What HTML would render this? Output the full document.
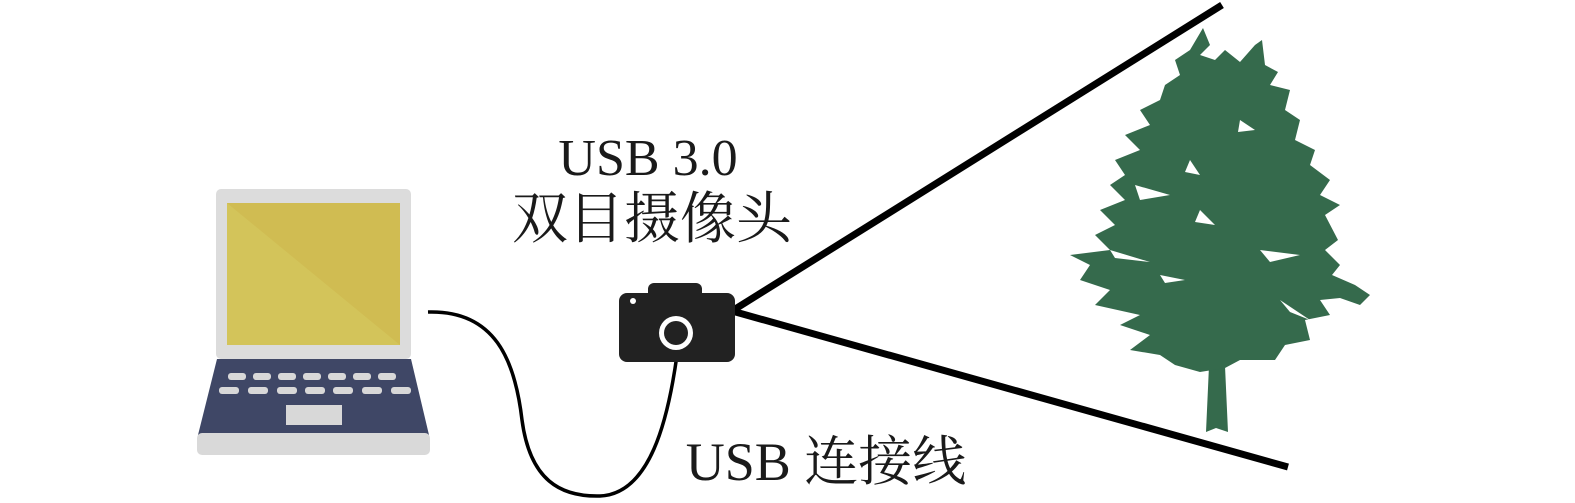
<!DOCTYPE html>
<html><head><meta charset="utf-8"><style>
html,body{margin:0;padding:0;background:#fff;}
svg{display:block;}
text{font-family:"Liberation Serif","Noto Serif CJK SC",serif;fill:#1a1a1a;}
</style></head><body>
<svg width="1575" height="503" viewBox="0 0 1575 503" xmlns="http://www.w3.org/2000/svg">
<!-- laptop -->
<rect x="216" y="189" width="195" height="170" rx="5" fill="#dcdcdc"/>
<rect x="227" y="203" width="173" height="142" fill="#d3c45a"/>
<polygon points="227,203 400,203 400,345" fill="#d0bc52"/>
<polygon points="217,359 411,359 429,435 198,435" fill="#3f4766"/>
<rect x="197" y="433" width="233" height="22" rx="5" fill="#d9d9d9"/>
<g fill="#d8d8d8">
<rect x="228" y="373" width="18" height="7" rx="3"/><rect x="253" y="373" width="18" height="7" rx="3"/><rect x="278" y="373" width="18" height="7" rx="3"/><rect x="303" y="373" width="18" height="7" rx="3"/><rect x="328" y="373" width="18" height="7" rx="3"/><rect x="353" y="373" width="18" height="7" rx="3"/><rect x="378" y="373" width="18" height="7" rx="3"/>
<rect x="219" y="387" width="20" height="7" rx="3"/><rect x="248" y="387" width="20" height="7" rx="3"/><rect x="277" y="387" width="20" height="7" rx="3"/><rect x="305" y="387" width="20" height="7" rx="3"/><rect x="333" y="387" width="20" height="7" rx="3"/><rect x="362" y="387" width="20" height="7" rx="3"/><rect x="391" y="387" width="20" height="7" rx="3"/>
<rect x="286" y="405" width="56" height="20"/>
</g>
<!-- cable -->
<path d="M428,312 C495,310 515,360 522,420 C530,480 560,497 600,496 C650,494 668,420 677,355" fill="none" stroke="#000" stroke-width="3.5"/>
<!-- view lines -->
<line x1="732" y1="311" x2="1222" y2="5" stroke="#000" stroke-width="7"/>
<line x1="732" y1="311" x2="1288" y2="467" stroke="#000" stroke-width="7"/>
<!-- camera -->
<rect x="648" y="283" width="54" height="20" rx="6" fill="#222"/>
<rect x="619" y="293" width="116" height="69" rx="8" fill="#222"/>
<circle cx="633" cy="301" r="3" fill="#fff"/>
<circle cx="676" cy="333" r="17" fill="#fff"/>
<circle cx="676" cy="333" r="12" fill="#222"/>
<!-- tree -->
<g fill="#356a4c">
<polygon points="1206,432 1212,300 1222,300 1228,432 1216,428"/>
<polygon points="1203,28 1210,45 1200,55 1215,60 1225,50 1240,62 1255,45 1262,40 1265,65 1278,72 1270,85 1290,90 1285,110 1300,120 1295,140 1315,150 1310,165 1330,180 1320,195 1340,205 1325,215 1338,240 1325,250 1340,265 1332,275 1355,285 1370,295 1360,305 1340,298 1320,300 1330,315 1305,320 1310,340 1285,345 1275,360 1240,360 1225,368 1200,372 1175,365 1160,355 1130,350 1150,335 1120,325 1140,315 1095,305 1110,290 1080,280 1090,265 1070,255 1110,250 1095,235 1115,225 1100,210 1125,200 1110,185 1125,175 1115,160 1140,150 1125,135 1150,125 1140,110 1160,100 1165,85 1180,75 1175,60 1190,50"/>
</g>
<g fill="#fff">
<polygon points="1135,185 1170,195 1140,200"/><polygon points="1260,250 1300,255 1270,262"/><polygon points="1190,160 1200,175 1185,172"/><polygon points="1240,120 1255,130 1238,132"/><polygon points="1110,250 1150,262 1115,258"/><polygon points="1200,210 1215,225 1195,222"/><polygon points="1280,300 1310,320 1290,312"/><polygon points="1160,275 1185,280 1165,283"/>
</g>
<!-- labels -->
<text x="648" y="175" font-size="52" text-anchor="middle">USB 3.0</text>
<text x="652" y="238" font-size="56" text-anchor="middle">双目摄像头</text>
<text x="826" y="480" font-size="54" text-anchor="middle">USB 连接线</text>
</svg>
</body></html>
